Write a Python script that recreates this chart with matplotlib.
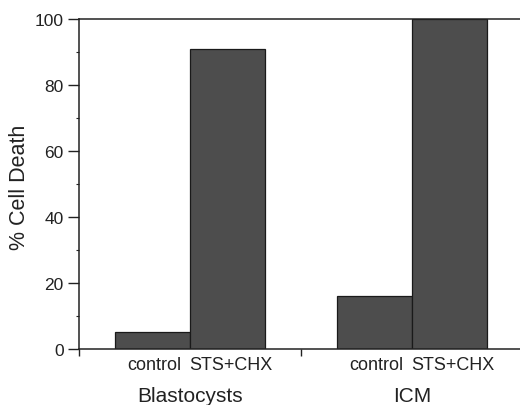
import matplotlib
matplotlib.use("Agg")
import matplotlib.pyplot as plt
from matplotlib.ticker import MultipleLocator, FixedLocator

plt.rcParams['font.family'] = ['Liberation Sans', 'DejaVu Sans']

groups = ["Blastocysts", "ICM"]
treatments = ["control", "STS+CHX"]
blastocyst_values = [5, 91]
icm_values = [16, 100]
y_ticks = [0, 20, 40, 60, 80, 100]

bar_color = "#4d4d4d"

fig = plt.figure(figsize=(5.2, 4.06), dpi=100)
ax = fig.add_axes([0.152, 0.138, 0.848, 0.813])

positions_b = [0, 1]
positions_i = [2.96, 3.96]
ax.bar(positions_b, blastocyst_values, width=1.0, color=bar_color,
       edgecolor="#1a1a1a", linewidth=0.9, zorder=2)
ax.bar(positions_i, icm_values, width=1.0, color=bar_color,
       edgecolor="#1a1a1a", linewidth=0.9, zorder=2)

ax.set_xlim(-0.98, 4.9)
ax.set_ylim(0, 100)

ax.spines['right'].set_visible(False)
for s in ['left', 'bottom', 'top']:
    ax.spines[s].set_linewidth(1.1)
    ax.spines[s].set_color("#222222")

ax.yaxis.set_major_locator(FixedLocator(y_ticks))
ax.yaxis.set_minor_locator(MultipleLocator(10))
ax.tick_params(axis='y', which='major', direction='out', length=8, width=1.0,
               labelsize=12.5, pad=3, colors="#222222")
ax.tick_params(axis='y', which='minor', direction='out', length=2.5, width=0.8,
               colors="#222222")

ax.xaxis.set_major_locator(FixedLocator([-0.98, 1.98]))
ax.tick_params(axis='x', which='major', direction='out', length=5, width=1.0,
               labelbottom=False, colors="#222222")

ax.set_ylabel("% Cell Death", fontsize=15.5, color="#222222", va='center')
ax.yaxis.set_label_coords(-0.134, 0.493)

trans = ax.get_xaxis_transform()
label_offsets = [0.03, 0.05]
for i, (pos, lab) in enumerate(zip(positions_b + positions_i, treatments * 2)):
    ax.text(pos + label_offsets[i % 2], -0.047, lab, transform=trans,
            ha='center', va='center', fontsize=13, color="#222222")
for pos, g in zip([0.5, 3.46], groups):
    ax.text(pos, -0.142, g, transform=trans, ha='center', va='center',
            fontsize=15, color="#222222")

fig.savefig("out.png", dpi=100)
